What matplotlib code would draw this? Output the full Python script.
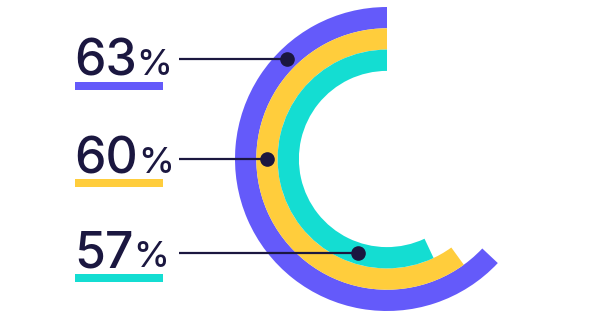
import matplotlib.pyplot as plt
from matplotlib.patches import Wedge, Rectangle
import numpy as np

# chart data
labels = ['63', '60', '57']
values = [63, 60, 57]
colors = ['#645AFA', '#FFCD3C', '#14DDD2']
dot_angles = [135, 180, 253]   # where each leader line meets its ring

navy = '#1B1740'
W, H = 597, 318

fig = plt.figure(figsize=(W / 100, H / 100), dpi=100)
ax = fig.add_axes([0, 0, 1, 1])
ax.set_xlim(0, W)
ax.set_ylim(0, H)
ax.axis('off')

cx, cy = 387, 159
r_outer = 152
band = 21.3
label_base = [243, 145, 51]   # baselines of the label numbers
bar_y = [228, 131, 36]

renderer = fig.canvas.get_renderer()
for i, (lab, val, col) in enumerate(zip(labels, values, colors)):
    r = r_outer - i * band
    ax.add_patch(Wedge((cx, cy), r, 90, 90 + val * 3.6, width=band,
                       facecolor=col, edgecolor='none'))

    # leader line and dot
    rm = r - band / 2
    a = np.radians(dot_angles[i])
    dx, dy = cx + rm * np.cos(a), cy + rm * np.sin(a)
    ax.plot([179, dx], [dy, dy], color=navy, lw=1.6, zorder=5,
            solid_capstyle='butt')
    ax.plot(dx, dy, 'o', color=navy, ms=9.5, zorder=6)

    # label
    t = ax.text(74, label_base[i], lab, fontsize=36, color=navy,
                family='Inter', weight='medium', ha='left', va='baseline')
    bb = t.get_window_extent(renderer)
    ax.text(bb.x1, label_base[i], '%', fontsize=26, color=navy,
            family='Inter', weight='medium', ha='left', va='baseline')
    ax.add_patch(Rectangle((75, bar_y[i]), 88, 8, facecolor=col,
                           edgecolor='none'))

fig.savefig('out.png', dpi=100, facecolor='white')
